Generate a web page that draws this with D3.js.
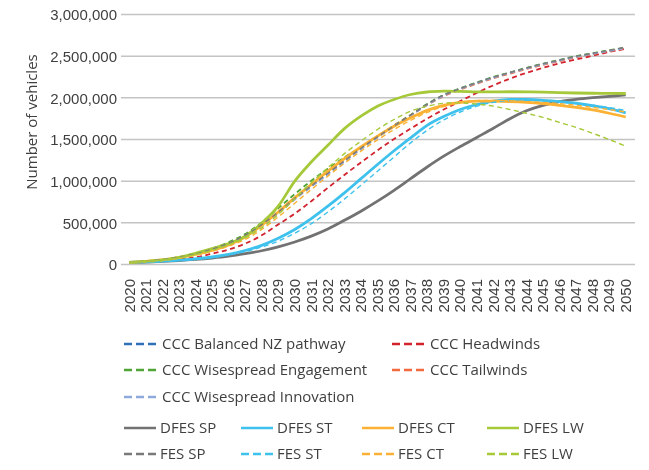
<!DOCTYPE html>
<head>
  <meta charset="utf-8">
  <script src="https://d3js.org/d3.v7.min.js"></script>
  <style>
    body {
      margin:0;position:fixed;top:0;right:0;bottom:0;left:0;
      font-family: "Open Sans", sans-serif;
      background-color: white;
    }
    .grid line { stroke: #c4c4c4; stroke-width: 1.5; }
    .axis text, .label, .legendText { fill: #3f3f3f; font-size: 15px; }
  </style>
</head>

<body>
  <script>
    // values in thousands of vehicles, one per year 2020..2050
    var years = d3.range(2020, 2051);

    var cccBalanced = [26,38,57,85,125,180,250,345,470,620,790,940,1090,1240,1390,1530,1660,1790,1920,2030,2110,2180,2245,2300,2355,2405,2450,2495,2530,2565,2600];
    var cccHeadwinds = [26,34,46,62,86,130,180,250,350,480,610,760,920,1075,1225,1370,1505,1630,1750,1860,1960,2060,2150,2230,2300,2360,2415,2460,2505,2550,2590];
    var cccEngagement = [26,39,59,90,132,192,268,365,505,675,845,1005,1150,1285,1410,1540,1670,1795,1925,2035,2115,2185,2250,2305,2360,2410,2455,2500,2535,2570,2605];
    var cccTailwinds = [26,38,57,86,126,180,250,345,470,625,795,950,1100,1245,1395,1535,1665,1790,1915,2020,2100,2170,2235,2290,2345,2395,2440,2485,2525,2560,2595];
    var cccInnovation = [26,37,55,83,122,176,245,338,462,612,780,932,1082,1232,1382,1525,1656,1786,1915,2025,2108,2178,2242,2298,2352,2402,2448,2492,2528,2563,2598];
    var dfesSP = [26,30,38,48,61,78,100,130,165,212,270,340,425,530,640,760,890,1030,1170,1300,1415,1525,1635,1750,1845,1910,1955,1982,2002,2018,2035];
    var dfesST = [26,31,40,52,68,90,122,168,230,315,420,550,700,860,1030,1200,1365,1520,1670,1775,1860,1920,1960,1980,1980,1970,1955,1935,1905,1870,1820];
    var dfesCT = [26,38,55,82,120,170,235,330,470,630,800,960,1120,1270,1410,1540,1660,1760,1850,1910,1945,1960,1960,1955,1945,1930,1910,1885,1855,1815,1770];
    var dfesLW = [26,38,54,86,134,190,250,340,495,700,1000,1230,1430,1630,1780,1900,1980,2040,2070,2080,2078,2072,2072,2073,2072,2068,2062,2058,2055,2054,2052];
    var fesSP = [26,38,58,87,128,184,256,352,478,628,795,945,1095,1245,1395,1532,1662,1792,1922,2032,2112,2182,2248,2303,2358,2408,2454,2498,2534,2570,2608];
    var fesST = [26,30,38,50,64,85,115,155,210,280,375,490,630,785,950,1120,1290,1460,1610,1735,1830,1900,1945,1965,1968,1962,1952,1936,1912,1882,1850];
    var fesCT = [26,36,52,76,112,160,220,300,420,570,735,900,1060,1215,1360,1495,1620,1730,1825,1895,1940,1965,1970,1965,1955,1945,1930,1910,1885,1860,1830];
    var fesLW = [26,37,53,80,120,170,235,320,440,600,790,980,1160,1330,1480,1620,1740,1840,1900,1935,1940,1925,1900,1860,1815,1765,1705,1645,1575,1500,1420];

    var yTicks = [0, 500, 1000, 1500, 2000, 2500, 3000];

    var series = [
      {name: "CCC Balanced NZ pathway", values: cccBalanced, color: "#2f6fba", dash: true, heavy: true},
      {name: "CCC Headwinds", values: cccHeadwinds, color: "#d2232f", dash: true, heavy: true},
      {name: "CCC Wisespread Engagement", values: cccEngagement, color: "#4fa535", dash: true, heavy: true},
      {name: "CCC Tailwinds", values: cccTailwinds, color: "#f26a3d", dash: true, heavy: true},
      {name: "CCC Wisespread Innovation", values: cccInnovation, color: "#8eaadc", dash: true, heavy: true},
      {name: "DFES SP", values: dfesSP, color: "#727272", dash: false},
      {name: "DFES ST", values: dfesST, color: "#3ec1ec", dash: false},
      {name: "DFES CT", values: dfesCT, color: "#fbb234", dash: false},
      {name: "DFES LW", values: dfesLW, color: "#a6c93a", dash: false},
      {name: "FES SP", values: fesSP, color: "#7a7a7a", dash: true},
      {name: "FES ST", values: fesST, color: "#3ec1ec", dash: true},
      {name: "FES CT", values: fesCT, color: "#fbb234", dash: true},
      {name: "FES LW", values: fesLW, color: "#a6c93a", dash: true}
    ];

    var svg = d3.select("body").append("svg")
      .attr("width", 649)
      .attr("height", 470)

    var x = d3.scaleBand()
      .domain(years)
      .range([121, 634])

    var y = d3.scaleLinear()
      .domain([0, 3000])
      .range([264.5, 14.5])

    var fmt = d3.format(",");

    // gridlines
    svg.append("g")
      .attr("class", "grid")
      .selectAll("line").data(yTicks).enter()
      .append("line")
      .attr("x1", 121)
      .attr("x2", 635)
      .attr("y1", function(d) {return y(d)})
      .attr("y2", function(d) {return y(d)})

    var yAxis = d3.axisLeft(y).tickValues(yTicks)
      .tickSize(0).tickPadding(4)
      .tickFormat(function(d) {return fmt(d * 1000)});

    svg.append("g")
      .attr("class", "axis")
      .attr("transform", "translate(117,0)")
      .call(yAxis)
      .call(function(g) {g.select(".domain").remove()})
      .selectAll("text").attr("dy", "0.35em").attr("x", 0)

    var xAxis = d3.axisBottom(x).tickSize(0).tickPadding(0);

    svg.append("g")
      .attr("class", "axis")
      .attr("transform", "translate(0,279)")
      .call(xAxis)
      .call(function(g) {g.select(".domain").remove()})
      .selectAll("text")
      .attr("text-anchor", "end")
      .attr("transform", "rotate(-90)")
      .attr("x", 0)
      .attr("y", 0)
      .attr("dy", "0.35em")

    svg.append("text")
      .attr("class", "label")
      .attr("transform", "translate(37,122) rotate(-90)")
      .attr("text-anchor", "middle")
      .text("Number of vehicles")

    // smoothed like the spreadsheet lines
    var line = d3.line()
      .curve(d3.curveCardinal.tension(0))
      .x(function(d, i) {return x(years[i]) + x.bandwidth() / 2})
      .y(function(d) {return y(d)})

    svg.append("g").selectAll("path").data(series).enter()
      .append("path")
      .attr("fill", "none")
      .attr("stroke", function(d) {return d.color})
      .attr("stroke-width", function(d) {return d.dash ? (d.heavy ? 1.8 : 1.4) : 2.8})
      .attr("stroke-dasharray", function(d) {return d.dash ? "5,3.5" : null})
      .attr("d", function(d) {return line(d.values)})

    // legend
    var legendPos = [
      [124, 344], [392, 344],
      [124, 370], [392, 370],
      [124, 397],
      [124, 428], [241, 428], [362, 428], [487, 428],
      [124, 454], [241, 454], [362, 454], [487, 454]
    ];

    var legend = svg.selectAll(".legend")
      .data(series)
      .enter().append("g")
      .attr("class", "legend")
      .attr("transform", function(d, i) {return "translate(" + legendPos[i][0] + "," + legendPos[i][1] + ")"})

    legend.append("line")
      .attr("x1", 0)
      .attr("x2", 32)
      .attr("stroke", function(d) {return d.color})
      .attr("stroke-width", 2.5)
      .attr("stroke-dasharray", function(d) {return d.dash ? "8,4" : null})

    legend.append("text")
      .attr("class", "legendText")
      .attr("x", function(d, i) {return i < 5 ? 38 : 36})
      .attr("dy", "0.35em")
      .text(function(d) {return d.name})
  </script>
</body>
